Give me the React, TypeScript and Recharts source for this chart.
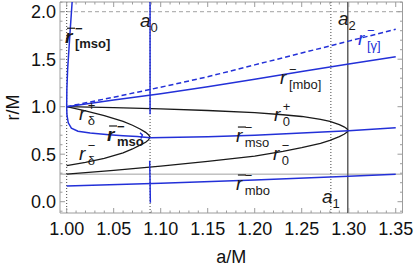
import React from 'react';
import {
  ComposedChart,
  Line,
  XAxis,
  YAxis,
  ReferenceLine,
  ReferenceArea,
  ReferenceDot,
  Label,
} from 'recharts';

type Pt = [number, number];

// special spins
const A0 = 1.0887;
const A1 = 1.281;
const A2 = 1.299;
const R_GRAY = 0.29;
const R_TWO = 2.0;

// blue: r̄⁻_[mso], steep branch from (1,1) up
const rMsoBarUpper: Pt[] = [
  [1.0, 1.0], [1.0002, 1.18], [1.001, 1.39], [1.0035, 1.77], [1.006, 2.13],
];
// blue: r̄⁻_mso, from (1,1) down, flat after the bend
const rMsoBar: Pt[] = [
  [1.0, 1.0], [1.0003, 0.91], [1.0017, 0.83], [1.005, 0.775], [1.012, 0.742],
  [1.025, 0.722], [1.045, 0.705], [1.06, 0.695], [1.075, 0.685], [1.0887, 0.672],
  [1.15, 0.683], [1.2, 0.7], [1.25, 0.722], [1.3, 0.748], [1.35, 0.778],
];
const rMsoHook: Pt[] = [[1.078, 0.726], [1.0805, 0.703], [1.079, 0.665]];
// blue verticals at a0
const rA0Upper: Pt[] = [[1.0887, 2.13], [1.0887, 0.92]];
const rA0Lower: Pt[] = [[1.0883, 0.43], [1.0887, 0.2], [1.089, -0.01]];
// blue: r̄⁻_mbo
const rMboBar: Pt[] = [[1.0, 0.165], [1.1, 0.193], [1.2, 0.228], [1.3, 0.268], [1.35, 0.288]];
// blue: r⁻_[mbo]
const rMbo: Pt[] = [
  [1.0, 1.0], [1.05, 1.07], [1.1, 1.137], [1.15, 1.21], [1.2, 1.29],
  [1.25, 1.37], [1.3, 1.449], [1.35, 1.526],
];
// blue dashed: r⁻_[γ]
const rGamma: Pt[] = [
  [1.0, 1.0], [1.05, 1.1], [1.1, 1.205], [1.15, 1.315], [1.2, 1.44],
  [1.25, 1.565], [1.3, 1.69], [1.35, 1.815],
];
// black: r_0⁺ / r_0⁻ loop closing at a2
const r0Loop: Pt[] = [
  [1.0, 1.0], [1.05, 0.99], [1.1, 0.977], [1.15, 0.96], [1.2, 0.937], [1.23, 0.915],
  [1.25, 0.897], [1.27, 0.866], [1.28, 0.845], [1.29, 0.812], [1.295, 0.788],
  [1.298, 0.768], [1.2995, 0.75], [1.298, 0.73], [1.295, 0.71], [1.29, 0.685],
  [1.28, 0.645], [1.27, 0.615], [1.25, 0.57], [1.23, 0.53], [1.2, 0.48],
  [1.15, 0.425], [1.1, 0.375], [1.05, 0.33], [1.0, 0.29],
];
// black: r_δ⁺ / r_δ⁻ loop closing at a0
const rDeltaLoop: Pt[] = [
  [1.0, 1.0], [1.02, 0.955], [1.04, 0.905], [1.06, 0.845], [1.07, 0.805],
  [1.078, 0.765], [1.084, 0.73], [1.087, 0.705], [1.0887, 0.68], [1.087, 0.65],
  [1.084, 0.625], [1.078, 0.595], [1.07, 0.555], [1.06, 0.515], [1.04, 0.455],
  [1.02, 0.415], [1.0, 0.38],
];

const xMajorTicks = [1.0, 1.05, 1.1, 1.15, 1.2, 1.25, 1.3, 1.35];
const yMajorTicks = [0.0, 0.5, 1.0, 1.5, 2.0];

const BLUE = '#2330d8';
const BLACK = '#1a1a1a';
const FRAME = '#9c9c9c';
const FONT = 'Liberation Sans, Arial, sans-serif';

const X_DOMAIN: [number, number] = [0.9929, 1.3572];
const Y_DOMAIN: [number, number] = [-0.119, 2.102];
const PLOT = { left: 60, right: 402.5, top: 2, bottom: 213 };

const rows = (pts: Pt[]) => pts.map(([a, r]) => ({ a, r }));

// minor ticks every 0.01 / 0.1
const xTicks: number[] = [];
for (let i = 100; i <= 135; i++) xTicks.push(i / 100);
const yTicks: number[] = [];
for (let i = -1; i <= 21; i++) yTicks.push(i / 10);

const isMajor = (v: number, list: number[]) => list.some((m) => Math.abs(m - v) < 1e-6);

function XTick(props: any) {
  const { x, payload } = props;
  const v = payload.value;
  const major = isMajor(v, xMajorTicks);
  const len = major ? 5 : 2.5;
  return (
    <g>
      <line x1={x} x2={x} y1={PLOT.bottom} y2={PLOT.bottom - len} stroke={FRAME} />
      <line x1={x} x2={x} y1={PLOT.top} y2={PLOT.top + len} stroke={FRAME} />
      {major && (
        <text x={x} y={235} textAnchor="middle" fontSize={18} fill="#111" fontFamily={FONT}>
          {v.toFixed(2)}
        </text>
      )}
    </g>
  );
}

function YTick(props: any) {
  const { y, payload } = props;
  const v = payload.value;
  const major = isMajor(v, yMajorTicks);
  const len = major ? 5 : 2.5;
  return (
    <g>
      <line x1={PLOT.left} x2={PLOT.left + len} y1={y} y2={y} stroke={FRAME} />
      <line x1={PLOT.right} x2={PLOT.right - len} y1={y} y2={y} stroke={FRAME} />
      {major && (
        <text x={56} y={y + 6.5} textAnchor="end" fontSize={18} fill="#111" fontFamily={FONT}>
          {v.toFixed(1)}
        </text>
      )}
    </g>
  );
}

interface CurveLabelSpec {
  a: number;
  r: number;
  main: string;
  bar?: boolean;
  sup?: string;
  sub?: string;
  color?: string;
  bold?: boolean;
}

const curveLabels: CurveLabelSpec[] = [
  { a: 0.9982, r: 1.668, main: 'r', bar: true, sup: '−', sub: '[mso]', bold: true },
  { a: 1.078, r: 1.839, main: 'a', sub: '0' },
  { a: 1.2886, r: 1.86, main: 'a', sub: '2' },
  { a: 1.31, r: 1.65, main: 'r', sup: '−', sub: '[γ]', color: BLUE },
  { a: 1.227, r: 1.239, main: 'r', sup: '−', sub: '[mbo]' },
  { a: 1.013, r: 0.86, main: 'r', sup: '+', sub: 'δ' },
  { a: 1.043, r: 0.639, main: 'r', bar: true, sup: '−', sub: 'mso', bold: true },
  { a: 1.2205, r: 0.849, main: 'r', sup: '+', sub: '0' },
  { a: 1.18, r: 0.628, main: 'r', bar: true, sup: '−', sub: 'mso' },
  { a: 1.013, r: 0.439, main: 'r', sup: '−', sub: 'δ' },
  { a: 1.2195, r: 0.439, main: 'r', sup: '−', sub: '0' },
  { a: 1.18, r: 0.123, main: 'r', bar: true, sup: '−', sub: 'mbo' },
  { a: 1.2716, r: -0.016, main: 'a', sub: '1' },
];

const SUP_W = 7.6; // advance of "−" / "+" at 13px

function CurveLabel({ vb, spec }: { vb: any; spec: CurveLabelSpec }) {
  if (!vb) return null;
  const x = vb.x;
  const y = vb.y;
  const color = spec.color || BLACK;
  const w = spec.bold ? 'bold' : 'normal';
  const isR = spec.main === 'r';
  return (
    <g fill={color} fontFamily={FONT}>
      {spec.bar && <line x1={x + 2} x2={x + 10} y1={y - 15} y2={y - 15} stroke={color} strokeWidth={1.2} />}
      <text x={x} y={y} fontSize={19} fontWeight={w}>
        <tspan fontStyle="italic">{spec.main}</tspan>
        {spec.sup && (
          <tspan fontSize={13} dx={2.5} dy={-10}>
            {spec.sup}
          </tspan>
        )}
        {spec.sub && (
          <tspan fontSize={13} dx={spec.sup ? -SUP_W : isR ? 2.5 : 0} dy={spec.sup ? 15 : 5}>
            {spec.sub}
          </tspan>
        )}
      </text>
    </g>
  );
}

const lineProps = {
  dataKey: 'r',
  type: 'linear' as const,
  dot: false,
  activeDot: false,
  isAnimationActive: false,
  strokeWidth: 1.5,
};

export default function App() {
  return (
    <div style={{ position: 'absolute', left: 0, top: 0, background: '#fff' }}>
      <ComposedChart width={417} height={268} margin={{ top: PLOT.top, right: 417 - PLOT.right, bottom: 0, left: 0 }}>
        <XAxis
          dataKey="a"
          type="number"
          domain={X_DOMAIN}
          allowDataOverflow
          ticks={xTicks}
          interval={0}
          tick={XTick}
          tickLine={false}
          axisLine={false}
          height={268 - PLOT.bottom}
        >
          <Label
            content={(p: any) => (
              <text
                x={p.viewBox.x + p.viewBox.width / 2}
                y={p.viewBox.y + p.viewBox.height - 5}
                textAnchor="middle"
                fontSize={18}
                fill="#111"
                fontFamily={FONT}
              >
                a/M
              </text>
            )}
          />
        </XAxis>
        <YAxis
          type="number"
          domain={Y_DOMAIN}
          allowDataOverflow
          ticks={yTicks}
          interval={0}
          tick={YTick}
          tickLine={false}
          axisLine={false}
          width={PLOT.left}
        >
          <Label
            content={(p: any) => {
              const cx = p.viewBox.x + 19;
              const cy = p.viewBox.y + p.viewBox.height / 2;
              return (
                <text
                  x={cx}
                  y={cy}
                  transform={`rotate(-90 ${cx} ${cy})`}
                  textAnchor="middle"
                  fontSize={18}
                  fill="#111"
                  fontFamily={FONT}
                >
                  r/M
                </text>
              );
            }}
          />
        </YAxis>

        <ReferenceArea x1={X_DOMAIN[0]} x2={X_DOMAIN[1]} y1={Y_DOMAIN[0]} y2={Y_DOMAIN[1]} fill="none" stroke={FRAME} />
        <ReferenceLine y={R_TWO} stroke="#b4b4b4" strokeWidth={1.2} strokeDasharray="4 3" />
        <ReferenceLine y={R_GRAY} stroke="#a0a0a0" strokeWidth={1} />
        <ReferenceLine x={1.0} stroke="#444" strokeDasharray="1 2" />
        <ReferenceLine x={A0} stroke="#444" strokeDasharray="1 2" />
        <ReferenceLine x={A1} stroke="#444" strokeDasharray="1 2" />
        <ReferenceLine x={A2} stroke="#555" strokeWidth={1.4} />

        <Line {...lineProps} data={rows(r0Loop)} stroke={BLACK} strokeWidth={1.3} />
        <Line {...lineProps} data={rows(rDeltaLoop)} stroke={BLACK} strokeWidth={1.3} />
        <Line {...lineProps} data={rows(rGamma)} stroke={BLUE} strokeDasharray="5 3" />
        <Line {...lineProps} data={rows(rMbo)} stroke={BLUE} />
        <Line {...lineProps} data={rows(rMboBar)} stroke={BLUE} />
        <Line {...lineProps} data={rows(rMsoBar)} stroke={BLUE} />
        <Line {...lineProps} data={rows(rMsoBarUpper)} stroke={BLUE} />
        <Line {...lineProps} data={rows(rMsoHook)} stroke={BLUE} />
        <Line {...lineProps} data={rows(rA0Upper)} stroke={BLUE} />
        <Line {...lineProps} data={rows(rA0Lower)} stroke={BLUE} />

        {curveLabels.map((l, i) => (
          <ReferenceDot
            key={i}
            x={l.a}
            y={l.r}
            r={0}
            fill="none"
            stroke="none"
            label={(p: any) => <CurveLabel vb={p.viewBox} spec={l} />}
          />
        ))}
      </ComposedChart>
    </div>
  );
}
